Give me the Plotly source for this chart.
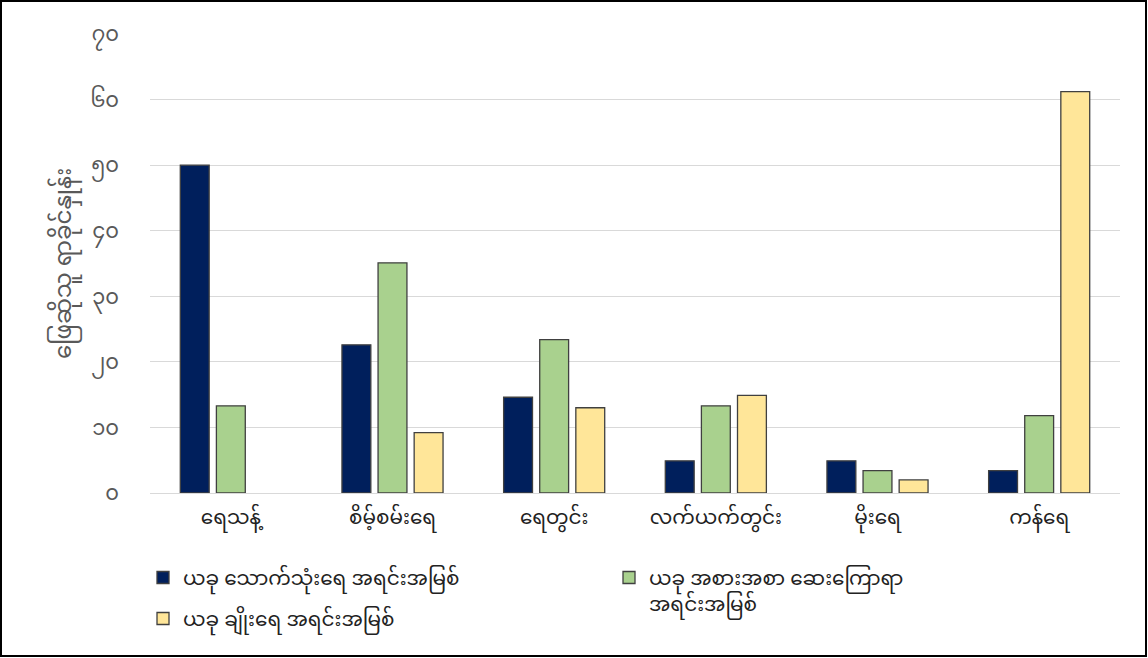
import plotly.graph_objects as go

categories = ["ရေသန့်", "စိမ့်စမ်းရေ", "ရေတွင်း", "လက်ယက်တွင်း", "မိုးရေ", "ကန်ရေ"]
series_names = [
    "ယခု သောက်သုံးရေ အရင်းအမြစ်",
    "ယခု အစားအစာ ဆေးကြောရာ<br>အရင်းအမြစ်",
    "ယခု ချိုးရေ အရင်းအမြစ်",
]
drinking = [50.0, 22.6, 14.6, 4.9, 4.9, 3.4]
food_washing = [13.3, 35.1, 23.4, 13.3, 3.4, 11.8]
bathing = [None, 9.2, 13.0, 14.9, 2.0, 61.2]
tick_values = [0, 10, 20, 30, 40, 50, 60, 70]
tick_labels = ["၀", "၁၀", "၂၀", "၃၀", "၄၀", "၅၀", "၆၀", "၇၀"]
y_title = "ဖြေဆိုသူ ရာခိုင်နှုန်း"

colors = ["#001F5C", "#A9D18E", "#FFE699"]
legend_refs = ["legend", "legend2", "legend"]
font_family = "Noto Sans Myanmar, Myanmar Text, Padauk, Noto Sans, DejaVu Sans, sans-serif"

fig = go.Figure()
for i, (name, vals, col, lg) in enumerate(zip(series_names, [drinking, food_washing, bathing], colors, legend_refs)):
    fig.add_trace(go.Bar(
        x=categories, y=vals, name=name, legend=lg, legendgroup=f"g{i}",
        marker=dict(color=col, line=dict(color="#404040", width=1.3)),
    ))

W, L, T, B, R = 1148, 150, 34, 165, 28
plot_w = W - L - R
plot_h = 658 - T - B


def px_x(px):
    return (px - L) / plot_w


def px_y(py):
    return (658 - B - py) / plot_h


legend_font = dict(size=20, color="#222222")

fig.update_layout(
    width=W, height=658,
    margin=dict(l=L, r=R, t=T, b=B, autoexpand=False),
    paper_bgcolor="white", plot_bgcolor="white",
    barmode="group", bargap=0.33, bargroupgap=0.2,
    font=dict(family=font_family, size=20, color="#222222"),
    showlegend=True,
    legend=dict(
        orientation="v", x=px_x(143), xanchor="left", y=px_y(558), yanchor="top",
        valign="top", font=legend_font, traceorder="grouped", tracegroupgap=12,
    ),
    legend2=dict(
        orientation="v", x=px_x(609), xanchor="left", y=px_y(558), yanchor="top",
        valign="top", font=legend_font,
    ),
    xaxis=dict(
        showgrid=False, showline=False, ticks="", ticklabelstandoff=10,
        tickfont=dict(size=20, color="#222222"),
    ),
    yaxis=dict(
        range=[0, 70], tickvals=tick_values, ticktext=tick_labels,
        showgrid=True, gridcolor="#D9D9D9", gridwidth=1.3,
        zeroline=True, zerolinecolor="#D9D9D9", zerolinewidth=1.3,
        showline=False, ticks="", ticklabelstandoff=30,
        tickfont=dict(size=21, color="#595959"),
        title=dict(text=y_title, font=dict(size=23, color="#595959"), standoff=12),
    ),
    shapes=[dict(
        type="rect", xref="paper", yref="paper",
        x0=px_x(1), x1=px_x(1146), y0=px_y(656), y1=px_y(1),
        line=dict(color="black", width=2), fillcolor="rgba(0,0,0,0)", layer="above",
    )],
)

fig.write_html("out.html")
